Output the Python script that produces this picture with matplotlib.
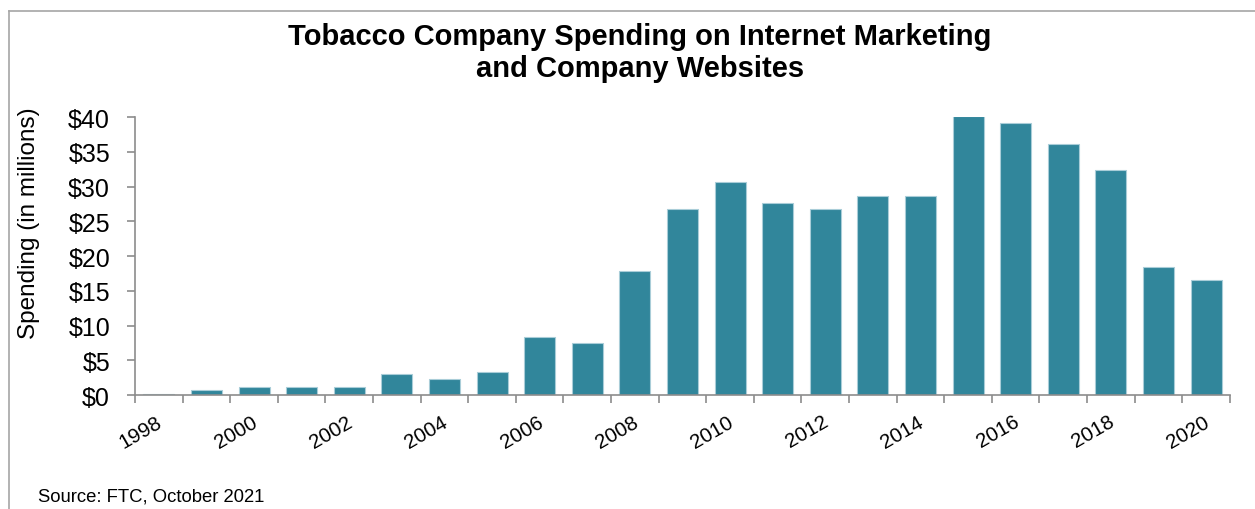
import matplotlib
matplotlib.use('Agg')
import matplotlib.pyplot as plt
import matplotlib.transforms as mtransforms
from matplotlib.lines import Line2D
from matplotlib.ticker import FixedLocator, NullFormatter

# Spending by year, millions of dollars
years = list(range(1998, 2021))
spending = [0.1, 0.7, 1.2, 1.1, 1.1, 3.0, 2.3, 3.3, 8.3, 7.5, 17.8, 26.7, 30.7,
            27.6, 26.7, 28.6, 28.7, 40.2, 39.1, 36.1, 32.4, 18.4, 16.5]
y_ticks = [0, 5, 10, 15, 20, 25, 30, 35, 40]

BAR_COLOR = '#31869b'
AXIS_GRAY = '#8c8c8c'

plt.rcParams['font.family'] = ['Liberation Sans', 'DejaVu Sans']

fig = plt.figure(figsize=(12.55, 5.10), dpi=100)
ax = fig.add_axes([0.1076, 0.2235, 0.8724, 0.5451])

x = list(range(len(years)))
ax.bar(x, spending, width=0.65, color=BAR_COLOR, edgecolor='#a9cdd8', linewidth=0.8)

ax.set_xlim(-0.5, len(years) - 0.5)
ax.set_ylim(0, 40)

# y axis
ax.set_yticks(y_ticks)
ax.set_yticklabels([f'${v}' for v in y_ticks], fontsize=18)
ax.tick_params(axis='y', direction='out', length=6, width=1.2, color=AXIS_GRAY, pad=12)

# x axis: tick marks between categories, labels on even years
ax.xaxis.set_major_locator(FixedLocator([i for i, y in enumerate(years) if y % 2 == 0]))
ax.set_xticklabels([str(y) for y in years if y % 2 == 0], fontsize=14.8,
                   rotation=30, ha='right', rotation_mode='anchor')
ax.tick_params(axis='x', which='major', length=0, pad=12)
shift = mtransforms.ScaledTranslation(-3 / 100, 0, fig.dpi_scale_trans)
for lbl in ax.get_xticklabels():
    lbl.set_transform(lbl.get_transform() + shift)
ax.xaxis.set_minor_locator(FixedLocator([i - 0.5 for i in range(len(years) + 1)]))
ax.xaxis.set_minor_formatter(NullFormatter())
ax.tick_params(axis='x', which='minor', direction='out', length=6, width=1.2, color=AXIS_GRAY)

for side in ['top', 'right']:
    ax.spines[side].set_visible(False)
for side in ['left', 'bottom']:
    ax.spines[side].set_color(AXIS_GRAY)
    ax.spines[side].set_linewidth(1.2)

fig.text(0.023, 0.563, 'Spending (in millions)', rotation=90, fontsize=17.5,
         ha='center', va='center')
fig.text(0.51, 0.896, 'Tobacco Company Spending on Internet Marketing\nand Company Websites',
         ha='center', va='center', fontsize=21, fontweight='bold', linespacing=1.22)
fig.text(0.030, 0.025, 'Source: FTC, October 2021', fontsize=13.3, ha='left', va='center')

# outer frame (top and left edges)
fig.add_artist(Line2D([0.0072, 1.0], [0.976, 0.976], color='#a6a6a6', linewidth=1.2,
                      transform=fig.transFigure))
fig.add_artist(Line2D([0.0072, 0.0072], [0.0, 0.976], color='#a6a6a6', linewidth=1.2,
                      transform=fig.transFigure))

fig.savefig('out.png', dpi=100)
